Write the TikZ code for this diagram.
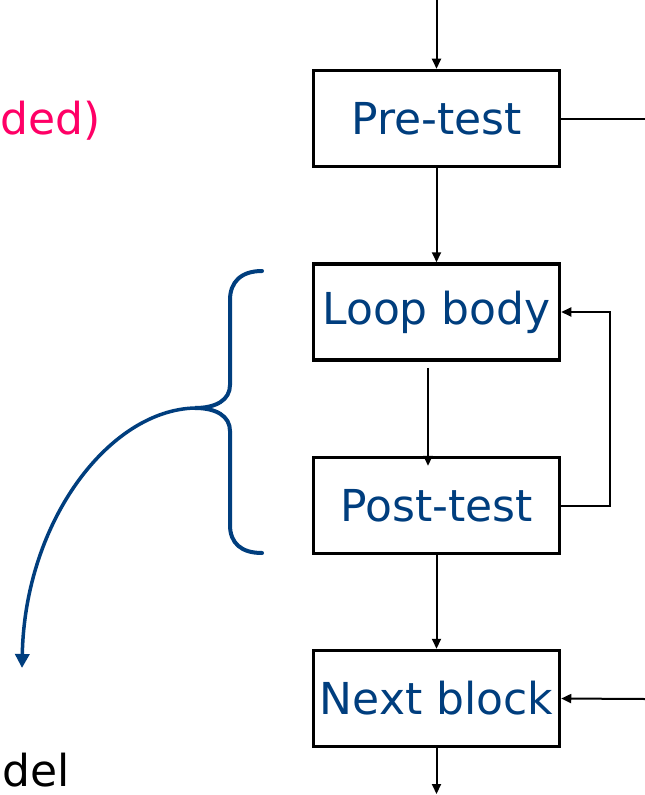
\documentclass[tikz,border=0pt]{standalone}
\usepackage{fontspec}
\setmainfont{DejaVu Sans}
\usetikzlibrary{arrows.meta}
\definecolor{boxblue}{RGB}{0,62,126}
\definecolor{pinkred}{RGB}{255,0,102}
\tikzset{
  flowbox/.style={draw=black, line width=3.5bp, minimum width=246bp, minimum height=96bp,
    inner sep=0pt, text=boxblue, font=\fontsize{44bp}{50bp}\selectfont, fill=white},
  flowarrow/.style={line width=2bp, -{Triangle[length=10bp,width=9bp]}},
  flowline/.style={line width=2bp},
  bracestyle/.style={draw=boxblue, line width=4bp, line cap=round},
  bigtext/.style={font=\fontsize{44bp}{50bp}\selectfont, inner sep=0pt}
}
\begin{document}
\begin{tikzpicture}[x=1bp, y=-1bp]
\useasboundingbox (0,0) rectangle (645,795);
\clip (0,0) rectangle (645,795);
\fill[white] (0,0) rectangle (645,795);

% boxes
\node[flowbox] (pre)  at (436.5,118.5) {Pre-test};
\node[flowbox] (loop) at (436.5,312)   {Loop body};
\node[flowbox] (post) at (436.5,505.5) {Post-test};
\node[flowbox] (next) at (436.5,698.5) {Next block};

% free ends
\coordinate (topin) at (436.5,0);
\coordinate (preout) at (645,118.5);
\coordinate (nextin) at (645,699);
\coordinate (botout) at (436.5,794);
\coordinate (fbcorner) at (610,312);
\coordinate (lbout) at ([xshift=-8.5bp,yshift=-6bp]loop.south);
\coordinate (ptin) at ([xshift=-8.5bp,yshift=-10bp]post.north);

% connectors
\draw[flowarrow] (topin) -- (pre.north);
\draw[flowline] (pre.east) -- (preout);
\draw[flowarrow] (pre.south) -- (loop.north);
\draw[flowarrow] (lbout) -- (ptin);
\draw[flowarrow] (post.east) -| (fbcorner) -- (loop.east);
\draw[flowarrow] (post.south) -- (next.north);
\draw[flowarrow] (nextin) -- (next.east);
\draw[flowarrow] (next.south) -- (botout);

% brace
\coordinate (cusp) at (195,408);
\draw[bracestyle] (262,271) .. controls (241,271) and (230,282) .. (230,300)
  -- (230,385) .. controls (230,400) and (216,408) .. (cusp)
  .. controls (216,408) and (230,416) .. (230,431)
  -- (230,525) .. controls (230,543) and (241,553) .. (262,553);
\coordinate (curveend) at (22,668);
\draw[draw=boxblue, line width=3.5bp, -{Triangle[length=14bp,width=14bp]}]
  (cusp) .. controls (110,410) and (25,520) .. (curveend);

% texts
\node[bigtext, text=pinkred, anchor=base east] (ded) at (101,134) {ded)};
\node[bigtext, text=black, anchor=base west] (del) at (2,786) {del};
\end{tikzpicture}
\end{document}
